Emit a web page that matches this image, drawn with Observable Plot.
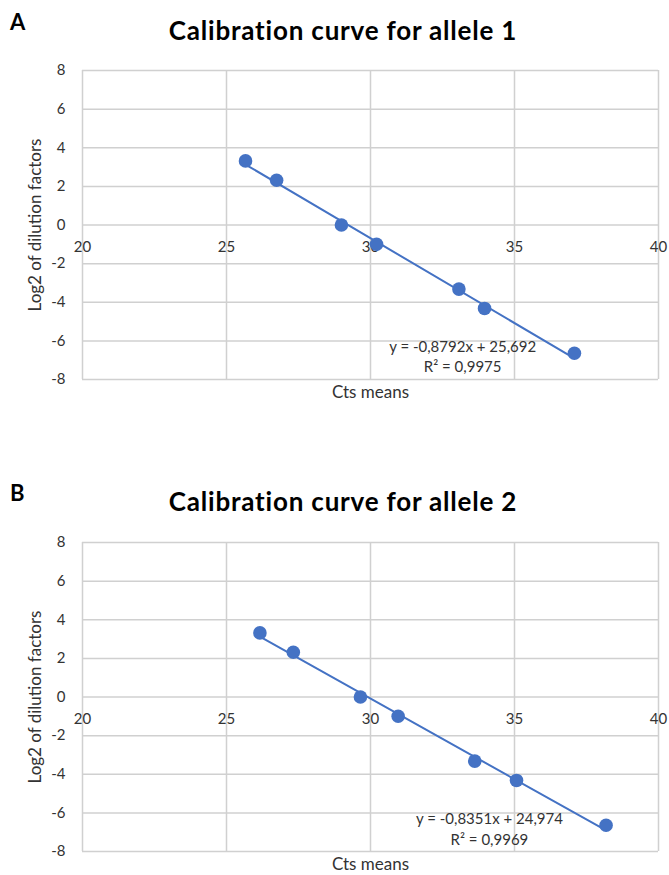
<!DOCTYPE html>
<html>
<head>
<meta charset="utf-8">
<script src="https://cdn.jsdelivr.net/npm/d3@7"></script>
<script src="https://cdn.jsdelivr.net/npm/@observablehq/plot@0.6"></script>
<style>
  html, body { margin: 0; padding: 0; background: #fff; }
  body { font-family: Lato, "Open Sans", sans-serif; width: 669px; }
  .panel { position: relative; width: 669px; }
  .head { position: relative; height: 50px; }
  .letter { position: absolute; left: 10px; top: 11px; font-weight: 700; font-size: 22px; line-height: 1; color: #000; }
  .title { position: absolute; left: 343px; top: 17px; transform: translateX(-50%); white-space: nowrap;
           font-weight: 700; font-size: 26px; letter-spacing: 0.8px; line-height: 1; color: #000; }
  svg { display: block; }
</style>
</head>
<body>
<div id="chart"></div>
<script>
// Log2 of the dilution factors (shared by both alleles)
const log2Dilution = [3.32, 2.32, 0, -1, -3.32, -4.32, -6.64];

// Mean Ct values for each dilution
const ctsAllele1 = [25.66, 26.74, 28.99, 30.21, 33.07, 33.96, 37.08];
const ctsAllele2 = [26.16, 27.32, 29.65, 30.96, 33.62, 35.07, 38.18];

// Linear trend lines as reported on the charts
const fitAllele1 = { slope: -0.8792, intercept: 25.692, r2: "0,9975", eq: "y = -0,8792x + 25,692" };
const fitAllele2 = { slope: -0.8351, intercept: 24.974, r2: "0,9969", eq: "y = -0,8351x + 24,974" };

// Axis ticks
const xTicks = [20, 25, 30, 35, 40];
const yTicks = [-8, -6, -4, -2, 0, 2, 4, 6, 8];

const panels = [
  { letter: "A", title: "Calibration curve for allele 1", cts: ctsAllele1, fit: fitAllele1,
    eqAt: [33.2, -6.75], height: 421, marginTop: 20, marginBottom: 92 },
  { letter: "B", title: "Calibration curve for allele 2", cts: ctsAllele2, fit: fitAllele2,
    eqAt: [34.13, -6.78], height: 354, marginTop: 21, marginBottom: 24 }
];

const blue = "#4472C4";
const grid = "#d0d0d0";
const ink = "#333333";

function drawPanel(p) {
  const points = p.cts.map((x, i) => ({ x, y: log2Dilution[i] }));
  const span = d3.extent(p.cts);
  const trend = span.map(x => ({ x, y: p.fit.slope * x + p.fit.intercept }));

  return Plot.plot({
    width: 669,
    height: p.height,
    marginLeft: 82,
    marginRight: 11,
    marginTop: p.marginTop,
    marginBottom: p.marginBottom,
    style: { fontFamily: "Lato, 'Open Sans', sans-serif", color: ink, background: "#fff" },
    x: { domain: [20, 40], axis: null },
    y: { domain: [-8, 8], axis: null },
    marks: [
      Plot.gridX(xTicks, { stroke: grid, strokeOpacity: 1, strokeWidth: 1.5 }),
      Plot.gridY(yTicks, { stroke: grid, strokeOpacity: 1, strokeWidth: 1.5 }),
      Plot.axisY(yTicks, { tickSize: 0, tickPadding: 17, label: null, fontSize: 15,
                           tickFormat: d => String(d), fill: ink }),
      // x tick labels sit just under the y = 0 line
      Plot.text(xTicks, { x: d => d, y: 0, dy: 22, text: d => String(d), fontSize: 15, fill: ink }),
      Plot.line(trend, { x: "x", y: "y", stroke: blue, strokeWidth: 2 }),
      Plot.dot(points, { x: "x", y: "y", r: 6.8, fill: blue, stroke: "none" }),
      Plot.text([p.fit.eq + "\nR² = " + p.fit.r2], {
        x: () => p.eqAt[0], y: () => p.eqAt[1], text: d => d,
        lineHeight: 1.35, fontSize: 15, fill: ink
      }),
      Plot.text(["Cts means"], { frameAnchor: "bottom", dy: 18, text: d => d, fontSize: 17, fill: ink }),
      Plot.text(["Log2 of dilution factors"], {
        frameAnchor: "left", textAnchor: "middle", dx: -47, rotate: -90,
        text: d => d, fontSize: 17, fill: ink
      })
    ]
  });
}

const root = document.getElementById("chart");
for (const p of panels) {
  const panel = document.createElement("div");
  panel.className = "panel";
  const head = document.createElement("div");
  head.className = "head";
  const letter = document.createElement("div");
  letter.className = "letter";
  letter.textContent = p.letter;
  const title = document.createElement("div");
  title.className = "title";
  title.textContent = p.title;
  head.append(letter, title);
  panel.append(head, drawPanel(p));
  root.append(panel);
}
</script>
</body>
</html>
